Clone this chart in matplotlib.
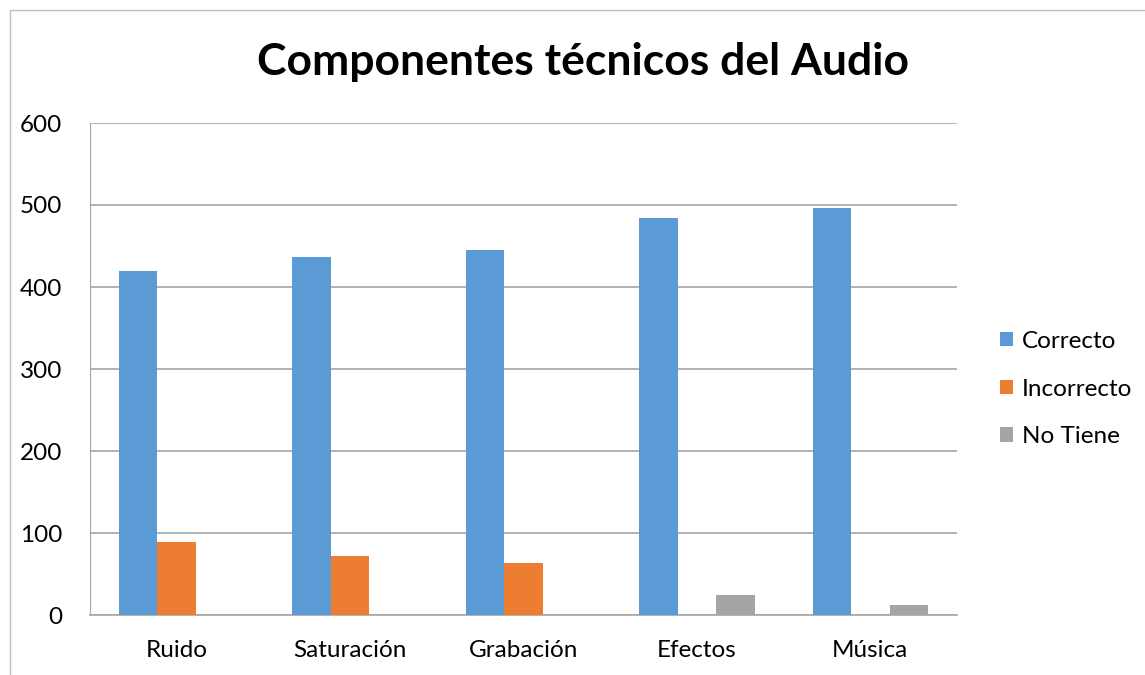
import matplotlib
matplotlib.use("Agg")
import matplotlib.pyplot as plt
import numpy as np
from matplotlib.patches import Rectangle

categories = ["Ruido", "Saturación", "Grabación", "Efectos", "Música"]
correcto = [419, 436, 445, 484, 496]
incorrecto = [89, 72, 63, 0, 0]
no_tiene = [0, 0, 0, 24, 12]
series_names = ["Correcto", "Incorrecto", "No Tiene"]
colors = ["#5B9BD5", "#ED7D31", "#A5A5A5"]
yticks = [0, 100, 200, 300, 400, 500, 600]

plt.rcParams['font.family'] = ['Lato', 'DejaVu Sans']

fig = plt.figure(figsize=(11.45, 6.75), dpi=100)
ax = fig.add_axes([90/1145, 60/675, 867/1145, 492/675])

x = np.arange(len(categories))
w = 0.222
for i, (vals, name, c) in enumerate(zip([correcto, incorrecto, no_tiene], series_names, colors)):
    ax.bar(x + (i - 1) * w, vals, width=w, color=c, label=name, zorder=3)

ax.set_xlim(-0.5, len(categories) - 0.5)
ax.set_ylim(0, 600)
ax.set_yticks(yticks)
ax.set_xticks(x)
ax.set_xticklabels(categories, fontsize=17.5)
ax.tick_params(axis='y', labelsize=17.5, length=0, pad=20)
ax.tick_params(axis='x', length=0, pad=18)
ax.grid(axis='y', color='#A6A6A6', linewidth=1.2, zorder=0)
for s in ['top', 'right']:
    ax.spines[s].set_visible(False)
ax.spines['left'].set_color('#A6A6A6')
ax.spines['bottom'].set_color('#A6A6A6')
ax.spines['bottom'].set_linewidth(1.2)

fig.text(583/1145, 1 - 62/675, "Componentes técnicos del Audio", ha='center', va='center',
         fontsize=32, fontweight='bold')

leg = fig.legend(loc='center left', bbox_to_anchor=(978/1145, 1 - 389/675), frameon=False,
                 fontsize=17.5, handlelength=0.55, handleheight=0.55, handletextpad=0.35,
                 labelspacing=1.1)

fig.patches.append(Rectangle((10/1145, -0.01), 1.02, 1 - 10/675 + 0.01, transform=fig.transFigure,
                             fill=False, edgecolor='#BFBFBF', linewidth=1))

fig.savefig("out.png", dpi=100)
